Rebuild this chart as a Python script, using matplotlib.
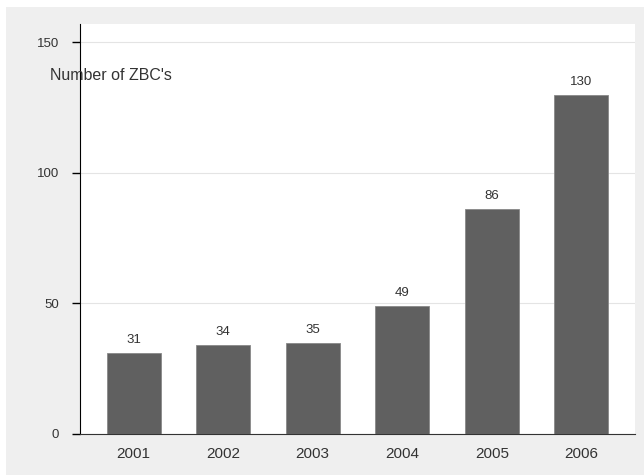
import matplotlib
matplotlib.use("Agg")
import matplotlib.pyplot as plt
from matplotlib.patches import Rectangle

years = ["2001", "2002", "2003", "2004", "2005", "2006"]
zbc_counts = [31, 34, 35, 49, 86, 130]
y_ticks = [0, 50, 100, 150]

plt.rcParams['font.family'] = ['Liberation Sans', 'DejaVu Sans']

fig = plt.figure(figsize=(6.44, 4.75), dpi=100, facecolor='white')
# light gray panel behind the chart
fig.patches.append(Rectangle((6 / 644, 0), 1, (475 - 7) / 475, transform=fig.transFigure,
                             facecolor='#efefef', edgecolor='none', zorder=-1))

ax = fig.add_axes([80 / 644, 41 / 475, 555 / 644, 410 / 475])
ax.set_facecolor('white')

x = range(len(years))
bars = ax.bar(x, zbc_counts, width=0.6, color='#606060', edgecolor='#888888', linewidth=0.6, zorder=3)
for xi, v in zip(x, zbc_counts):
    ax.annotate(str(v), (xi, v), xytext=(0, 5), textcoords='offset points',
                ha='center', va='bottom', fontsize=9.5, color='#333333')

ax.set_xlim(-0.6, 5.6)
ax.set_ylim(0, 157)
ax.set_xticks(list(x))
ax.set_xticklabels(years)
ax.set_yticks(y_ticks)
ax.tick_params(axis='x', length=0, pad=9, labelsize=11, labelcolor='#333333')
ax.tick_params(axis='y', length=6, width=1, pad=9, labelsize=9.5, labelcolor='#333333')
ax.grid(axis='y', color='#e4e4e4', linewidth=0.8, zorder=0)

for side in ['top', 'right']:
    ax.spines[side].set_visible(False)
ax.spines['left'].set_color('black')
ax.spines['bottom'].set_color('#333333')

fig.text(50 / 644, 1 - 76 / 475, "Number of ZBC's", fontsize=11.5, color='#333333',
         ha='left', va='center')

fig.savefig("out.png", dpi=100, facecolor=fig.get_facecolor())
